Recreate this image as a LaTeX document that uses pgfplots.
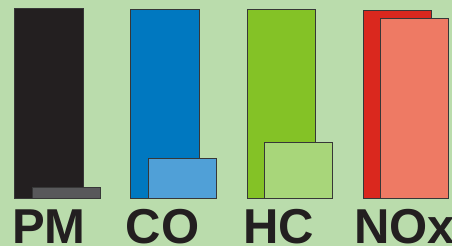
\documentclass[border=0pt]{standalone}
\usepackage{pgfplots}
\pgfplotsset{compat=1.18}
\usepackage{fontspec}
\setmainfont{Liberation Sans}
\definecolor{bg}{RGB}{186,220,172}
\definecolor{pmD}{RGB}{35,31,32}
\definecolor{pmL}{RGB}{88,88,90}
\definecolor{coD}{RGB}{0,120,192}
\definecolor{coL}{RGB}{80,160,215}
\definecolor{hcD}{RGB}{132,194,38}
\definecolor{hcL}{RGB}{168,214,122}
\definecolor{noD}{RGB}{218,40,30}
\definecolor{noL}{RGB}{238,122,100}
\definecolor{edge}{RGB}{55,55,55}
\newcommand{\lab}{\fontsize{49}{49}\selectfont\bfseries}
\begin{document}
\begin{tikzpicture}
\path[use as bounding box, clip] (0,0) rectangle (452pt,246pt);
\fill[bg] (0,0) rectangle (452pt,246pt);
\begin{axis}[
  at={(0,0)}, anchor=south west,
  scale only axis, width=452pt, height=246pt,
  xmin=0, xmax=452, ymin=-48, ymax=198,
  axis lines=none, ticks=none, clip=false,
  ybar, bar width=68.5, bar shift=0pt,
  every axis plot/.append style={draw=edge, line width=0.6pt},
]
\addplot[fill=pmD] coordinates {(49,190)};
\addplot[fill=coD] coordinates {(165,189)};
\addplot[fill=hcD] coordinates {(281.5,189)};
\addplot[fill=noD] coordinates {(397.5,188)};
\addplot[fill=pmL] coordinates {(66.5,11)};
\addplot[fill=coL] coordinates {(182.5,40)};
\addplot[fill=hcL] coordinates {(298.5,56)};
\addplot[fill=noL] coordinates {(414.5,180)};
\node[anchor=base, inner sep=0pt, text=pmD, font=\lab] at (axis cs:49,-45.5) {PM};
\node[anchor=base, inner sep=0pt, text=pmD, font=\lab] at (axis cs:162.5,-45.5) {CO};
\node[anchor=base, inner sep=0pt, text=pmD, font=\lab] at (axis cs:278.5,-45.5) {HC};
\node[anchor=base, inner sep=0pt, text=pmD, font=\lab] at (axis cs:404.5,-45.5) {NOx};
\end{axis}
\end{tikzpicture}
\end{document}
